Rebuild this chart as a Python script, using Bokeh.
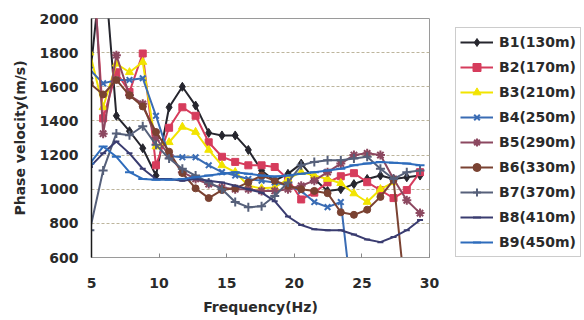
from bokeh.plotting import figure
from bokeh.layouts import row
from bokeh.models import Range1d, FixedTicker, Legend, LegendItem
from bokeh.embed import file_html
from bokeh.resources import INLINE

# Frequencies (Hz) of the dispersion points
freq = [4.88, 5.86, 6.84, 7.81, 8.79, 9.77, 10.74, 11.72, 12.70, 13.67,
        14.65, 15.63, 16.60, 17.58, 18.55, 19.53, 20.51, 21.48, 22.46, 23.44,
        24.41, 25.39, 26.37, 27.34, 28.32, 29.30]

# Phase velocity (m/s) per receiver line
b1 = [1650, 2400, 1430, 1340, 1240, 1080, 1480, 1600, 1490, 1330, 1315, 1315, 1230,
      1110, 1050, 1090, 1150, 1060, 990, 1000, 1030, 1060, 1080, 1060, 1070, 1080]
b2 = [2600, 1415, 1685, 1570, 1795, 1140, 1360, 1480, 1430, 1275, 1190, 1160, 1140,
      1140, 1130, 1060, 940, 980, 1040, 1076, 1094, 1041, 994, 948, 995, 1100]
b3 = [1800, 1480, 1735, 1685, 1745, 1250, 1275, 1365, 1335, 1230, 1140, 1100, 1020,
      1005, 1010, 1060, 1100, 1080, 1060, 1035, 975, 925, 1000, 1040]
b4 = [1700, 1620, 1640, 1640, 1650, 1430, 1195, 1187, 1187, 1140, 1100, 1080, 1060,
      1050, 1040, 1020, 990, 925, 895, 925, 250]
b5 = [2700, 1325, 1785, 1550, 1500, 1300, 1200, 1100, 1060, 1030, 1010, 1000, 1000,
      990, 990, 1000, 1020, 1050, 1100, 1150, 1200, 1210, 1200, 1060, 935, 860]
b6 = [1620, 1555, 1640, 1550, 1485, 1335, 1220, 1095, 1005, 948, 995, 1005, 1040,
      1080, 1050, 1020, 1000, 990, 977, 865, 850, 880, 955, 1055, 300]
b7 = [760, 1110, 1327, 1316, 1369, 1260, 1180, 1120, 1080, 1040, 1000, 925, 895,
      900, 960, 1040, 1140, 1160, 1170, 1170, 1180, 1190, 1120, 1060, 1100, 1110]
b8 = [1130, 1210, 1280, 1210, 1120, 1060, 1060, 1050, 1060, 1050, 1040, 1020, 1000,
      980, 930, 840, 790, 765, 760, 760, 735, 705, 690, 720, 760, 820]
b9 = [1150, 1250, 1190, 1100, 1060, 1055, 1055, 1060, 1070, 1080, 1090, 1100, 1090,
      1080, 1075, 1080, 1090, 1100, 1110, 1120, 1140, 1150, 1160, 1155, 1150, 1140]

series = [b1, b2, b3, b4, b5, b6, b7, b8, b9]
labels = ["B1(130m)", "B2(170m)", "B3(210m)", "B4(250m)", "B5(290m)",
          "B6(330m)", "B7(370m)", "B8(410m)", "B9(450m)"]
colors = ["#26262e", "#d63c5c", "#f2e400", "#3a6cb4", "#8c4860",
          "#7a4232", "#56607a", "#3a3c70", "#2e6cbc"]
markers = ["diamond", "square", "triangle", "x", "asterisk",
           "circle", "cross", "dash", "dash"]
msizes = [9, 7, 8, 8, 9, 7, 9, 6, 9]

x_ticks = [5, 10, 15, 20, 25, 30]
y_ticks = [600, 800, 1000, 1200, 1400, 1600, 1800, 2000]

FONT = "DejaVu Sans"

p = figure(width=455, height=320, output_backend="svg", toolbar_location=None,
           x_range=Range1d(5, 30), y_range=Range1d(600, 2000),
           min_border_left=91, min_border_right=26, min_border_top=18,
           min_border_bottom=63)
p.background_fill_color = "white"
p.border_fill_color = "white"
p.outline_line_color = "#9a9a9a"
p.outline_line_width = 1

p.xgrid.visible = False
p.ygrid.grid_line_color = "#bdb59c"
p.ygrid.grid_line_dash = "3 2"
p.ygrid.grid_line_width = 1

p.xaxis.ticker = FixedTicker(ticks=x_ticks)
p.yaxis.ticker = FixedTicker(ticks=y_ticks)
for ax in (p.xaxis[0], p.yaxis[0]):
    ax.major_label_text_font = FONT
    ax.major_label_text_font_style = "bold"
    ax.major_label_text_font_size = "14px"
    ax.major_label_text_color = "#2a2a2a"
    ax.axis_label_text_font = FONT
    ax.axis_label_text_font_style = "bold"
    ax.axis_label_text_font_size = "14px"
    ax.axis_label_text_color = "#2a2a2a"
    ax.minor_tick_line_color = None
    ax.major_tick_out = 0

p.xaxis.axis_label = "Frequency(Hz)"
p.yaxis.axis_label = "Phase velocity(m/s)"
p.xaxis.major_tick_in = 4
p.xaxis.major_tick_line_color = "#888888"
p.xaxis.axis_line_color = "#9a9a9a"
p.xaxis.major_label_standoff = 20
p.xaxis.axis_label_standoff = 8
p.yaxis.major_tick_in = 0
p.yaxis.major_tick_line_color = None
p.yaxis.axis_line_color = "#1a1a1a"
p.yaxis.axis_line_width = 1.5
p.yaxis.major_label_standoff = 13
p.yaxis.axis_label_standoff = 9

# legend panel (separate canvas to the right of the plot)
leg = figure(width=129, height=320, output_backend="svg", toolbar_location=None,
             x_range=Range1d(0, 1), y_range=Range1d(0, 1),
             x_axis_location=None, y_axis_location=None,
             min_border_left=0, min_border_right=0, min_border_top=0,
             min_border_bottom=0)
leg.grid.visible = False
leg.outline_line_color = None
leg.background_fill_color = "white"
leg.border_fill_color = "white"

items = []
for vals, lab, col, mk, ms in zip(series, labels, colors, markers, msizes):
    xs = freq[:len(vals)]
    p.line(xs, vals, line_color=col, line_width=2)
    lw = 2 if mk in ("x", "asterisk", "cross", "dash") else 1
    p.scatter(xs, vals, marker=mk, size=ms, line_color=col, line_width=lw,
              fill_color=col)
    # proxy renderers (placed outside the legend canvas's range) for legend glyphs
    lr = leg.line([-5, -4], [-5, -4], line_color=col, line_width=2)
    sr = leg.scatter([-5], [-5], marker=mk, size=ms - 2, line_color=col,
                     line_width=lw, fill_color=col)
    items.append(LegendItem(label=lab, renderers=[lr, sr]))

legend = Legend(items=items, location=(0, 0), orientation="vertical")
legend.label_text_font = FONT
legend.label_text_font_style = "bold"
legend.label_text_font_size = "14px"
legend.label_text_color = "#2a2a2a"
legend.border_line_color = "#9a9a9a"
legend.border_line_width = 1
legend.background_fill_color = "white"
legend.background_fill_alpha = 1
legend.glyph_width = 33
legend.glyph_height = 20
legend.label_height = 20
legend.label_width = 76
legend.spacing = 5
legend.padding = 4
legend.margin = 0
legend.label_standoff = 6
leg.add_layout(legend)

layout = row(p, leg, spacing=0)
open("out.html", "w").write(file_html(layout, INLINE))
